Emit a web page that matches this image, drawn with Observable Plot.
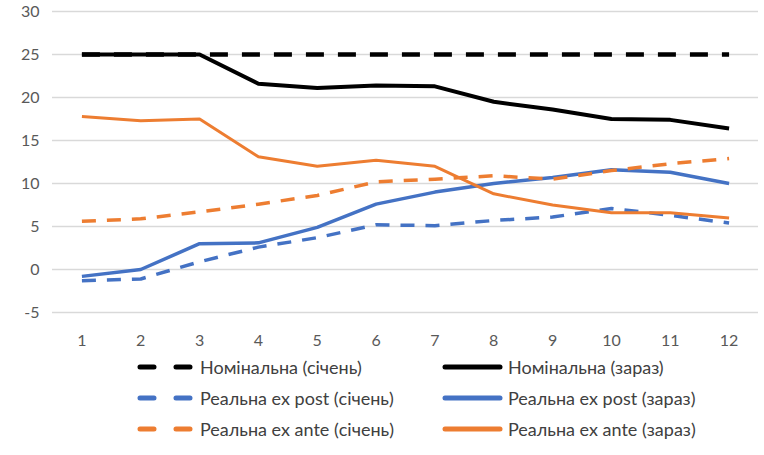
<!DOCTYPE html>
<html>
<head>
<meta charset="utf-8">
<script src="https://cdn.jsdelivr.net/npm/d3@7"></script>
<script src="https://cdn.jsdelivr.net/npm/@observablehq/plot@0.6"></script>
<style>
  html, body { margin: 0; padding: 0; background: #fff; }
  body { width: 764px; height: 455px; overflow: hidden; font-family: Lato, "Open Sans", sans-serif; }
  #legend { position: relative; height: 100px; }
  .item { position: absolute; display: flex; align-items: center; font-size: 18px; color: #404040; white-space: nowrap; }
  .item svg { display: block; margin-right: 5px; }
</style>
</head>
<body>
<div id="chart"></div>
<div id="legend"></div>
<script>
const months = [1, 2, 3, 4, 5, 6, 7, 8, 9, 10, 11, 12];
const yTicks = [-5, 0, 5, 10, 15, 20, 25, 30];
const nominalJan = [25, 25, 25, 25, 25, 25, 25, 25, 25, 25, 25, 25];
const nominalNow = [25, 25, 25, 21.6, 21.1, 21.4, 21.3, 19.5, 18.6, 17.5, 17.4, 16.4];
const expostJan = [-1.3, -1.1, 0.9, 2.6, 3.7, 5.2, 5.1, 5.7, 6.1, 7.1, 6.3, 5.4];
const expostNow = [-0.8, 0, 3.0, 3.1, 4.9, 7.6, 9.0, 10.0, 10.7, 11.6, 11.3, 10.0];
const exanteJan = [5.6, 5.9, 6.7, 7.6, 8.6, 10.2, 10.5, 10.9, 10.5, 11.5, 12.3, 12.9];
const exanteNow = [17.8, 17.3, 17.5, 13.1, 12.0, 12.7, 12.0, 8.8, 7.5, 6.6, 6.6, 6.0];

const seriesNames = [
  "Номінальна (січень)", "Номінальна (зараз)",
  "Реальна ex post (січень)", "Реальна ex post (зараз)",
  "Реальна ex ante (січень)", "Реальна ex ante (зараз)"
];
const seriesValues = [nominalJan, nominalNow, expostJan, expostNow, exanteJan, exanteNow];
const styles = [
  {stroke: "#000000", width: 4.5, dash: "18,14"},
  {stroke: "#000000", width: 4, dash: null},
  {stroke: "#4472C4", width: 3.5, dash: "14,11"},
  {stroke: "#4472C4", width: 3.5, dash: null},
  {stroke: "#ED7D31", width: 3.5, dash: "14,11"},
  {stroke: "#ED7D31", width: 3, dash: null}
];

const tables = seriesValues.map(vals => months.map((m, i) => ({m, v: vals[i]})));

const lineMarks = tables.map((t, k) => Plot.line(t, {
  x: "m", y: "v",
  stroke: styles[k].stroke,
  strokeWidth: styles[k].width,
  strokeDasharray: styles[k].dash || undefined,
  strokeLinejoin: "round",
  strokeLinecap: "butt"
}));

const chart = Plot.plot({
  width: 764,
  height: 355,
  marginLeft: 52,
  marginRight: 6,
  marginTop: 11,
  marginBottom: 43,
  style: {fontFamily: "Lato, 'Open Sans', sans-serif", fontSize: "16px", color: "#595959", background: "white"},
  x: {type: "point", domain: months, padding: 0.5, round: false, label: null},
  y: {domain: [-5, 30], label: null},
  marks: [
    Plot.ruleY(yTicks, {stroke: "#d9d9d9", strokeWidth: 1.5}),
    Plot.axisX({tickSize: 0, tickPadding: 22, fontSize: 16, fill: "#595959"}),
    Plot.axisY(yTicks, {tickSize: 0, tickPadding: 13, fontSize: 16, fill: "#595959", tickFormat: d => String(d)}),
    ...lineMarks
  ]
});
document.getElementById("chart").appendChild(chart);

// Legend
const legend = document.getElementById("legend");
const positions = [
  {left: 137, top: 367}, {left: 442, top: 367},
  {left: 137, top: 398}, {left: 442, top: 398},
  {left: 137, top: 429}, {left: 442, top: 429}
];
seriesNames.forEach((name, k) => {
  const item = document.createElement("div");
  item.className = "item";
  item.style.left = positions[k].left + "px";
  item.style.top = (positions[k].top - 355 - 11) + "px";
  item.style.height = "22px";
  const s = styles[k];
  const w = k % 2 === 0 ? 58 : 61;
  item.innerHTML = `<svg width="${w}" height="22"><line x1="3" y1="11" x2="${w - 3}" y2="11" stroke="${s.stroke}" stroke-width="5" stroke-linecap="round" ${s.dash ? 'stroke-dasharray="14,22"' : ''}/></svg><span>${name}</span>`;
  legend.appendChild(item);
});
</script>
</body>
</html>
